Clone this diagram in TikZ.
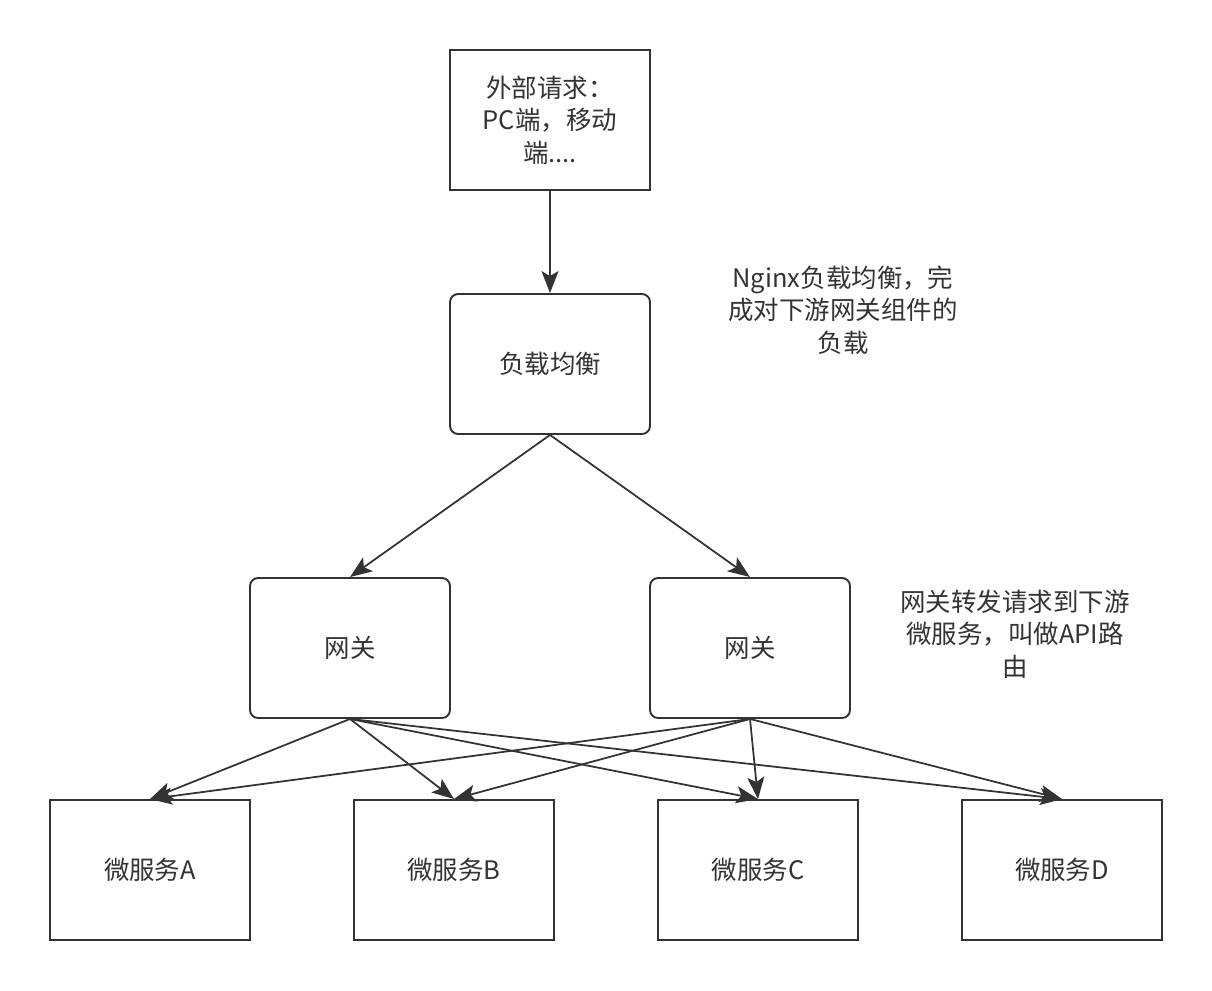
\documentclass[tikz,border=0pt]{standalone}
\usepackage{fontspec}
\setmainfont{Noto Sans CJK SC}
\usetikzlibrary{arrows.meta}
\definecolor{ink}{HTML}{333333}
\tikzset{
  plainbox/.style={draw=ink, line width=1.1pt, minimum width=4cm, minimum height=2.8cm,
    align=center, text=ink, font=\fontsize{14.5}{18.5}\selectfont},
  roundbox/.style={plainbox, rounded corners=0.16cm},
  note/.style={align=center, text=ink, font=\fontsize{14.5}{18.5}\selectfont},
  link/.style={draw=ink, line width=1pt, -{Stealth[length=0.44cm, width=0.34cm, inset=0.1cm]}}
}
\begin{document}
\begin{tikzpicture}[x=0.02cm, y=-0.02cm]
  \useasboundingbox (0,0) rectangle (1212,990);
  % request and load balancer
  \node[plainbox] (req) at (550,120) {外部请求：\\PC端，移动\\端....};
  \node[roundbox] (lb) at (550,364) {负载均衡};
  % gateways
  \node[roundbox] (gwa) at (350,648) {网关};
  \node[roundbox] (gwb) at (750,648) {网关};
  % services
  \node[plainbox] (sa) at (150,870) {微服务A};
  \node[plainbox] (sb) at (454,870) {微服务B};
  \node[plainbox] (sc) at (758,870) {微服务C};
  \node[plainbox] (sd) at (1062,870) {微服务D};
  % notes
  \node[note] (nlb) at (843,310) {Nginx负载均衡，完\\成对下游网关组件的\\负载};
  \node[note] (ngw) at (1015,634) {网关转发请求到下游\\微服务，叫做API路\\由};
  % connectors
  \draw[link] (req) -- (lb);
  \draw[link] (lb.south) -- (gwa.north);
  \draw[link] (lb.south) -- (gwb.north);
  \foreach \s in {sa,sb,sc,sd} {
    \draw[link] (gwa.south) -- (\s.north);
    \draw[link] (gwb.south) -- (\s.north);
  }
\end{tikzpicture}
\end{document}
